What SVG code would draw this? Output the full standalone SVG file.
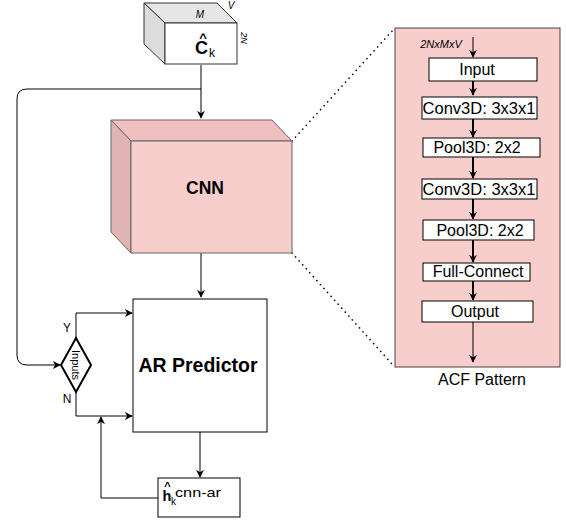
<svg xmlns="http://www.w3.org/2000/svg" width="566" height="521" viewBox="0 0 566 521">
<defs>
<marker id="ah" viewBox="0 0 10 10" refX="9" refY="5" markerWidth="8" markerHeight="8" markerUnits="userSpaceOnUse" orient="auto"><path d="M0,0 L10,5 L0,10 L3,5 z" fill="#000"/></marker>
<style>
text{font-family:"Liberation Sans",Arial,sans-serif;fill:#000}
.ln{fill:none;stroke:#000;stroke-width:1}
.thick{fill:none;stroke:#000;stroke-width:2}
.box{fill:#fff;stroke:#000;stroke-width:1}
.lbl{font-size:16px;text-anchor:middle}
.dot{fill:none;stroke:#000;stroke-width:1.6;stroke-dasharray:0.1 5.2;stroke-linecap:round}
</style>
</defs>
<rect width="566" height="521" fill="#fff"/>
<g id="connectors">
<path class="ln" d="M201,65 V118" marker-end="url(#ah)"/>
<path class="ln" d="M201,89 H27 Q17,89 17,99 V355 Q17,365 27,365 H60" marker-end="url(#ah)"/>
<path class="ln" d="M201,253 V297" marker-end="url(#ah)"/>
<path class="ln" d="M76,338 V313 H132" marker-end="url(#ah)"/>
<path class="ln" d="M76,392 V416 H132" marker-end="url(#ah)"/>
<path class="ln" d="M200,432 V477" marker-end="url(#ah)"/>
<path class="ln" d="M158,498 H101 V417" marker-end="url(#ah)"/>
<path class="dot" d="M292,141 L393,30"/>
<path class="dot" d="M292,253 L392,364"/>
</g>
<g id="input-cube">
<path d="M144,3 H217 L237,23 H165 Z" fill="#e6e6e6" stroke="#333" stroke-width="1"/>
<path d="M144,3 L165,23 V64 L144,44 Z" fill="#dcdcdc" stroke="#333" stroke-width="1"/>
<rect x="165" y="23" width="72" height="41" fill="#fff" stroke="#333" stroke-width="1"/>
<text x="200" y="18" font-size="10" font-style="italic" text-anchor="middle">M</text>
<text x="231" y="9" font-size="10" font-style="italic" text-anchor="middle">V</text>
<text x="0" y="0" font-size="9" font-style="italic" text-anchor="middle" transform="translate(241,38) rotate(90)">2N</text>
<text x="203" y="42" font-size="13" font-weight="bold" text-anchor="middle">^</text>
<text x="201.5" y="54" font-size="18" font-weight="bold" text-anchor="middle">C</text>
<text x="209" y="57" font-size="12">k</text>
</g>
<g id="cnn">
<path d="M111,120 H272 L292,141 H131 Z" fill="#f0c0c0" stroke="#666" stroke-width="1"/>
<path d="M111,120 L131,141 V253 L111,232 Z" fill="#e0b4b4" stroke="#666" stroke-width="1"/>
<rect x="131" y="141" width="161" height="112" fill="#f8cecc" stroke="#666" stroke-width="1"/>
<text x="205" y="194" font-size="17.5" font-weight="bold" text-anchor="middle">CNN</text>
</g>
<g id="ar-predictor">
<rect x="133" y="299" width="134" height="133" class="box"/>
<text x="198" y="372" font-size="19.5" font-weight="bold" text-anchor="middle">AR Predictor</text>
</g>
<g id="inputs-decision">
<path d="M76,338 L91,365 L76,392 L61,365 Z" fill="#fff" stroke="#000" stroke-width="2"/>
<text x="0" y="0" font-size="11" text-anchor="middle" transform="translate(72,365) rotate(90)">Inputs</text>
<text x="67" y="332" font-size="12" text-anchor="middle">Y</text>
<text x="67" y="403" font-size="12" text-anchor="middle">N</text>
</g>
<g id="h-output">
<rect x="158" y="478" width="82" height="39" class="box"/>
<text x="167.5" y="490" font-size="11" font-weight="bold" text-anchor="middle">^</text>
<text x="167" y="501" font-size="14.5" font-weight="bold" text-anchor="middle">h</text>
<text x="171" y="505" font-size="10">k</text>
<text x="175" y="497" font-size="13" textLength="46" lengthAdjust="spacingAndGlyphs">cnn-ar</text>
</g>
<g id="acf-pattern">
<rect x="395" y="28" width="165" height="339" fill="#f8cecc" stroke="#444" stroke-width="1"/>
<text x="441" y="48" font-size="11" font-style="italic" text-anchor="middle">2NxMxV</text>
<path class="ln" d="M473,37 V57" marker-end="url(#ah)"/>
<rect x="429" y="58" width="108" height="23" class="box"/>
<text x="477" y="75" class="lbl">Input</text>
<path class="thick" d="M473,81 V95" marker-end="url(#ah)"/>
<rect x="422" y="97" width="115" height="22" class="box"/>
<text x="479" y="114" class="lbl" textLength="113" lengthAdjust="spacingAndGlyphs">Conv3D: 3x3x1</text>
<path class="thick" d="M473,119 V137" marker-end="url(#ah)"/>
<rect x="423" y="138" width="117" height="19" class="box"/>
<text x="477" y="153" class="lbl">Pool3D: 2x2</text>
<path class="thick" d="M473,157 V178" marker-end="url(#ah)"/>
<rect x="422" y="179" width="115" height="20" class="box"/>
<text x="479" y="195" class="lbl" textLength="113" lengthAdjust="spacingAndGlyphs">Conv3D: 3x3x1</text>
<path class="thick" d="M473,199 V219" marker-end="url(#ah)"/>
<rect x="423" y="220" width="111" height="20" class="box"/>
<text x="480" y="236" class="lbl">Pool3D: 2x2</text>
<path class="thick" d="M473,240 V262" marker-end="url(#ah)"/>
<rect x="423" y="263" width="107" height="18" class="box"/>
<text x="478" y="277" class="lbl">Full-Connect</text>
<path class="thick" d="M473,281 V300" marker-end="url(#ah)"/>
<rect x="422" y="301" width="111" height="21" class="box"/>
<text x="475" y="317" class="lbl">Output</text>
<path class="ln" d="M473,322 V362" marker-end="url(#ah)"/>
<text x="482" y="385" font-size="16" text-anchor="middle">ACF Pattern</text>
</g>
</svg>
